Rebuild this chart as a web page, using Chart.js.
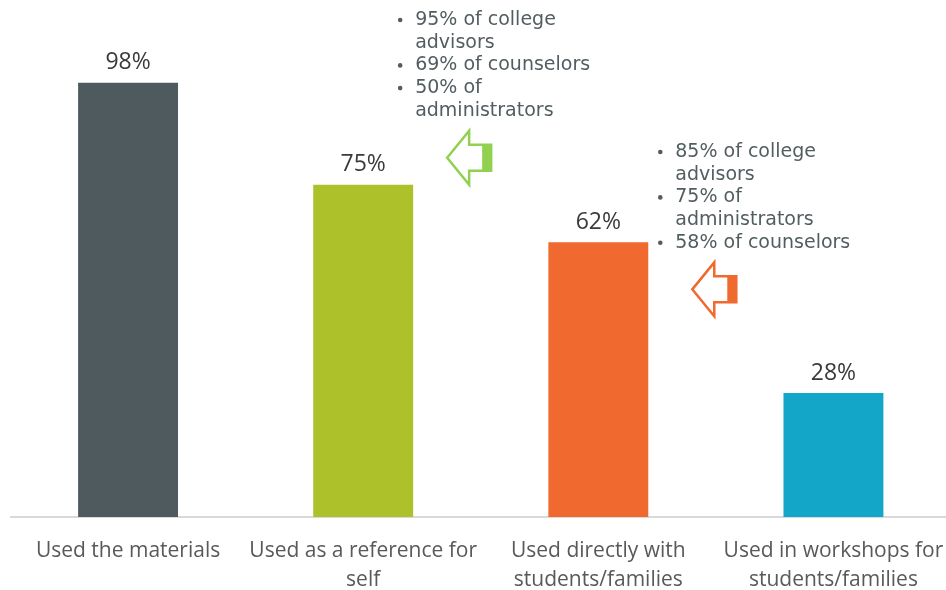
<!DOCTYPE html>
<html>
<head>
<meta charset="utf-8">
<script src="https://cdn.jsdelivr.net/npm/chart.js@4"></script>
<style>
  html, body { margin: 0; padding: 0; background: #ffffff; overflow: hidden; width: 946px; height: 590px; }
  #wrap { width: 951px; height: 590px; position: relative; }
</style>
</head>
<body>
<div id="wrap"><canvas id="chart"></canvas></div>
<script>
// Share of respondents by how they used the materials
const categories = [
  ["Used the materials"],
  ["Used as a reference for", "self"],
  ["Used directly with", "students/families"],
  ["Used in workshops for", "students/families"]
];
const values = [98, 75, 62, 28];
const barColors = ["#4e5a5e", "#adc12a", "#f0692f", "#13a6c8"];

// Breakdown notes attached to two of the bars
const noteReference = ["95% of college", "advisors", "69% of counselors", "50% of", "administrators"];
const noteReferenceBullets = [true, false, true, true, false];
const noteDirect = ["85% of college", "advisors", "75% of", "administrators", "58% of counselors"];
const noteDirectBullets = [true, false, true, false, true];

const noteFont = "'DejaVu Sans', Verdana, sans-serif";
const labelFont = "'Open Sans', sans-serif";

// Value labels above bars
const valueLabels = {
  id: 'valueLabels',
  afterDatasetsDraw(chart) {
    const ctx = chart.ctx;
    const meta = chart.getDatasetMeta(0);
    ctx.save();
    ctx.font = "23px " + labelFont;
    ctx.fillStyle = "#3a3a3a";
    ctx.textAlign = "center";
    ctx.textBaseline = "middle";
    meta.data.forEach((bar, i) => {
      ctx.fillText(values[i] + "%", bar.x, bar.y - 20);
    });
    ctx.restore();
  }
};

// Hollow block arrow pointing left, with the tail end filled
function drawArrow(ctx, tipX, tipY, color) {
  const headLen = 22, headHalf = 27, shaftHalf = 13, shaftLen = 22, fillLen = 9;
  ctx.save();
  ctx.strokeStyle = color;
  ctx.lineWidth = 2.5;
  ctx.lineJoin = "miter";
  ctx.beginPath();
  ctx.moveTo(tipX, tipY);
  ctx.lineTo(tipX + headLen, tipY - headHalf);
  ctx.lineTo(tipX + headLen, tipY - shaftHalf);
  ctx.lineTo(tipX + headLen + shaftLen, tipY - shaftHalf);
  ctx.lineTo(tipX + headLen + shaftLen, tipY + shaftHalf);
  ctx.lineTo(tipX + headLen, tipY + shaftHalf);
  ctx.lineTo(tipX + headLen, tipY + headHalf);
  ctx.closePath();
  ctx.stroke();
  ctx.fillStyle = color;
  ctx.fillRect(tipX + headLen + shaftLen - fillLen, tipY - shaftHalf, fillLen, shaftHalf * 2);
  ctx.restore();
}

function drawNote(ctx, lines, bullets, x, y) {
  ctx.save();
  ctx.font = "19px " + noteFont;
  ctx.fillStyle = "#525d60";
  ctx.textAlign = "left";
  ctx.textBaseline = "middle";
  lines.forEach((t, i) => {
    const ly = y + i * 22.7;
    if (bullets[i]) {
      ctx.beginPath();
      ctx.arc(x - 15, ly, 2.3, 0, Math.PI * 2);
      ctx.fill();
    }
    ctx.fillText(t, x, ly);
  });
  ctx.restore();
}

const notes = {
  id: 'notes',
  afterDatasetsDraw(chart) {
    const ctx = chart.ctx;
    const meta = chart.getDatasetMeta(0);
    const b1 = meta.data[1], b2 = meta.data[2];
    const half1 = b1.width / 2, half2 = b2.width / 2;
    // note and arrow for "reference for self"
    drawNote(ctx, noteReference, noteReferenceBullets, b1.x + half1 + 2, 20);
    drawArrow(ctx, b1.x + half1 + 34, b1.y - 27, "#92d050");
    // note and arrow for "directly with students/families"
    drawNote(ctx, noteDirect, noteDirectBullets, b2.x + half2 + 27, 152);
    drawArrow(ctx, b2.x + half2 + 44, b2.y + 47, "#f0692f");
  }
};

new Chart(document.getElementById('chart'), {
  type: 'bar',
  data: {
    labels: categories,
    datasets: [{
      data: values,
      backgroundColor: barColors,
      borderWidth: 0,
      barPercentage: 0.425,
      categoryPercentage: 1.0
    }]
  },
  options: {
    responsive: true,
    maintainAspectRatio: false,
    animation: false,
    layout: { padding: { left: 10.5, right: 0, top: 74, bottom: 0 } },
    plugins: {
      legend: { display: false },
      tooltip: { enabled: false }
    },
    scales: {
      x: {
        grid: { display: false, drawTicks: false },
        border: { display: true, color: "#d9d9d9", width: 2 },
        afterFit(scale) {
          // let the long edge labels overhang instead of shrinking the plot
          scale.paddingLeft = 0;
          scale.paddingRight = 0;
          scale.height = 73;
        },
        ticks: {
          color: "#595959",
          padding: 20,
          maxRotation: 0,
          autoSkip: false,
          font: { family: labelFont, size: 21, lineHeight: 1.38 }
        }
      },
      y: {
        display: false,
        min: 0,
        max: 100
      }
    }
  },
  plugins: [valueLabels, notes]
});
</script>
</body>
</html>
